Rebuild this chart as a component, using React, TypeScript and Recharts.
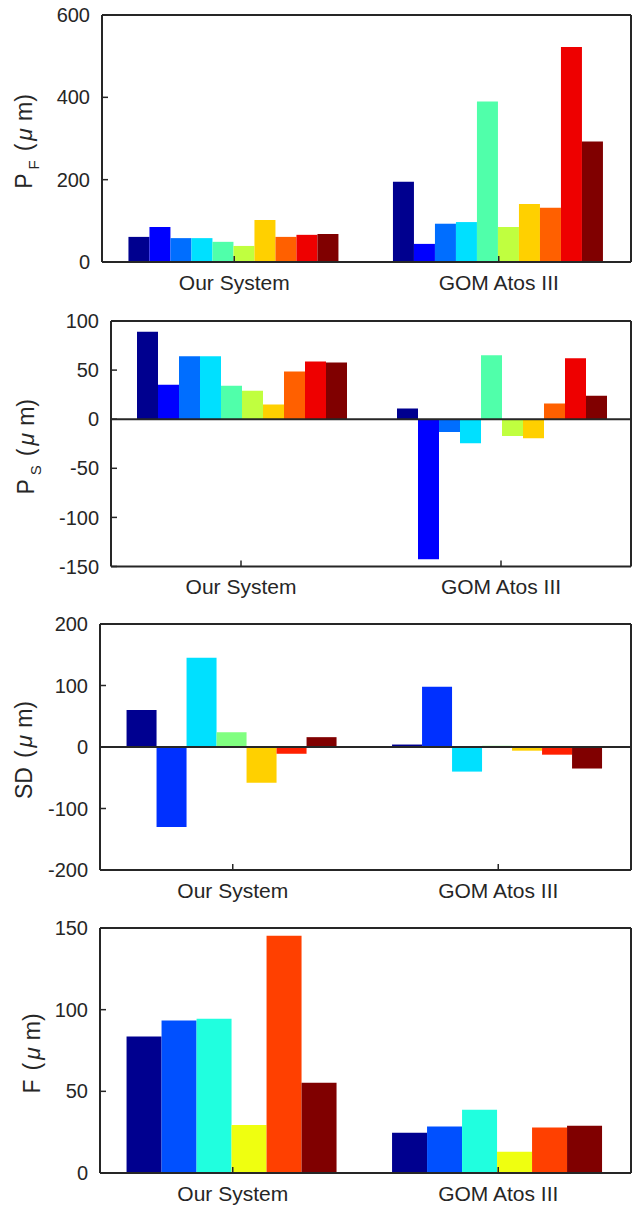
import React from 'react';
import { BarChart, Bar, XAxis, YAxis, ReferenceLine } from 'recharts';

const categories = ['Our System', 'GOM Atos III'];

const pfOurSystem = [61, 85, 58, 58, 49, 39, 102, 61, 66, 68];
const pfGomAtos = [195, 44, 93, 97, 390, 85, 141, 132, 522, 293];
const pfTicks = [0, 200, 400, 600];

const psOurSystem = [89, 35, 64, 64, 34, 29, 15, 48.5, 58.7, 57.7];
const psGomAtos = [11, -142.5, -13, -24.4, 65, -17, -19.3, 16, 62, 24];
const psTicks = [-150, -100, -50, 0, 50, 100];

const tenColors = ['#00008F', '#0000FF', '#006EFF', '#00E0FF', '#50FFAA', '#C0FF3F', '#FFD000', '#FF6000', '#EE0000', '#800000'];

const sdOurSystem = [60, -130, 145, 24, -58, -11, 16];
const sdGomAtos = [4, 98, -40, 2, -6, -12.5, -35];
const sdTicks = [-200, -100, 0, 100, 200];
const sevenColors = ['#000090', '#0030FF', '#00E0FF', '#80FF80', '#FFD000', '#FF2000', '#800000'];

const fOurSystem = [83.5, 93.3, 94.5, 29.4, 145.3, 55.3];
const fGomAtos = [24.7, 28.4, 38.8, 13, 27.8, 29];
const fTicks = [0, 50, 100, 150];
const sixColors = ['#00008F', '#0050FF', '#20FFDF', '#EFFF10', '#FF4000', '#800000'];

const INK = '#262626';
const FONT = '"Liberation Sans", Arial, Helvetica, sans-serif';

function YLabel(props: any) {
  const { viewBox, labelX, main, sub } = props;
  const cx = labelX;
  const cy = viewBox.y + viewBox.height / 2 + 3;
  return (
    <text
      x={cx}
      y={cy}
      transform={`rotate(-90, ${cx}, ${cy})`}
      textAnchor="middle"
      fill={INK}
      fontSize={23}
      fontFamily={FONT}
    >
      <tspan>{main}</tspan>
      {sub ? <tspan fontSize={15} dx={4} dy={7}>{sub}</tspan> : null}
      <tspan dy={sub ? -7 : 0} dx={9}>(</tspan>
      <tspan fontStyle="italic" dx={3}>μ</tspan>
      <tspan dx={7}>m)</tspan>
    </text>
  );
}

function Panel(props: any) {
  const { plotTop, plotBottom, plotLeft, our, gom, colors, ticks, main, sub, labelX, zeroLine } = props;
  const data = categories.map((c, i) => {
    const row: any = { cat: c };
    const vals = i === 0 ? our : gom;
    vals.forEach((v: number, j: number) => {
      row['s' + j] = v;
    });
    return row;
  });
  const domain = [ticks[0], ticks[ticks.length - 1]];
  const plotH = plotBottom - plotTop;
  const axisStyle = { stroke: INK, strokeWidth: 2 };
  const tickLineStyle = { stroke: INK, strokeWidth: 1.5 };
  return (
    <div style={{ position: 'absolute', left: 0, top: plotTop - 10 }}>
      <BarChart
        width={637}
        height={plotH + 60}
        data={data}
        margin={{ top: 9, right: 5, bottom: 0, left: 0 }}
        barCategoryGap="10%"
        barGap={0}
      >
        <XAxis
          dataKey="cat"
          height={50}
          tickSize={-6}
          tickMargin={19}
          axisLine={axisStyle}
          tickLine={tickLineStyle}
          tick={{ fill: INK, fontSize: 21, fontFamily: FONT }}
        />
        <XAxis
          xAxisId="t"
          dataKey="cat"
          orientation="top"
          height={1}
          tick={false}
          tickSize={-6}
          axisLine={axisStyle}
          tickLine={tickLineStyle}
        />
        <YAxis
          type="number"
          domain={domain}
          ticks={ticks}
          interval={0}
          allowDataOverflow
          width={plotLeft}
          tickSize={-6}
          tickMargin={18}
          axisLine={axisStyle}
          tickLine={tickLineStyle}
          tick={{ fill: INK, fontSize: 20, fontFamily: FONT }}
          label={{ content: (p: any) => <YLabel {...p} labelX={labelX} main={main} sub={sub} /> }}
        />
        <YAxis
          yAxisId="r"
          orientation="right"
          type="number"
          domain={domain}
          ticks={ticks}
          interval={0}
          allowDataOverflow
          width={1}
          tick={false}
          tickSize={-6}
          axisLine={axisStyle}
          tickLine={tickLineStyle}
        />
        {colors.map((c: string, j: number) => (
          <Bar key={j} dataKey={'s' + j} fill={c} isAnimationActive={false} />
        ))}
        {zeroLine ? <ReferenceLine y={0} stroke={INK} strokeWidth={2} /> : null}
      </BarChart>
    </div>
  );
}

export default function App() {
  return (
    <div style={{ position: 'absolute', left: 0, top: 0, width: 637, height: 1207, background: '#fff' }}>
      <Panel plotTop={15} plotBottom={262} plotLeft={102} our={pfOurSystem} gom={pfGomAtos} colors={tenColors} ticks={pfTicks} main="P" sub="F" labelX={32} />
      <Panel plotTop={320.5} plotBottom={566} plotLeft={111} our={psOurSystem} gom={psGomAtos} colors={tenColors} ticks={psTicks} main="P" sub="S" labelX={33.5} zeroLine />
      <Panel plotTop={624} plotBottom={870} plotLeft={100} our={sdOurSystem} gom={sdGomAtos} colors={sevenColors} ticks={sdTicks} main="SD" labelX={32} zeroLine />
      <Panel plotTop={928} plotBottom={1173} plotLeft={100} our={fOurSystem} gom={fGomAtos} colors={sixColors} ticks={fTicks} main="F" labelX={40} />
    </div>
  );
}
